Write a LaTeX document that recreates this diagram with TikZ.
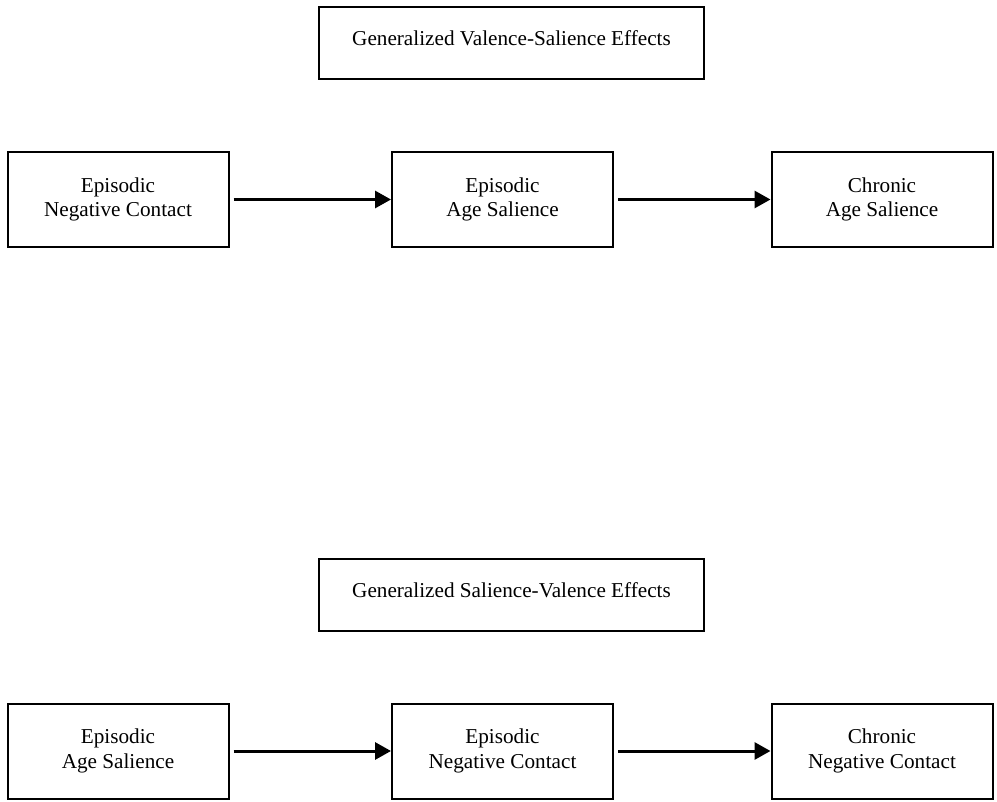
\documentclass[tikz,border=0pt]{standalone}
\usepackage{fontspec}
\setmainfont{Liberation Serif}
\usetikzlibrary{arrows.meta}

\begin{document}
\begin{tikzpicture}[x=1pt, y=-1pt, inner sep = 0pt,
  every node/.style={font=\fontsize{21.2}{24.5}\selectfont, align=center},
  box/.style={draw, line width=2pt, minimum width=221pt, minimum height=95pt},
  titlebox/.style={draw, line width=2pt, minimum width=385pt, minimum height=72pt, text depth=10pt},
  link/.style={line width=3pt, -{Triangle[length=16pt,width=17pt]}, shorten <=4pt}]
  \useasboundingbox (0,0) rectangle (997,802);

  % valence-salience
  \node[titlebox] (vstitle) at (511.5,43) {Generalized Valence-Salience Effects};

  \node[box] (vs1) at (118,199.5) {Episodic\\Negative Contact};
  \node[box] (vs2) at (502.5,199.5) {Episodic\\Age Salience};
  \node[box] (vs3) at (882,199.5) {Chronic\\Age Salience};
    \path[link] (vs1) edge (vs2);
    \path[link] (vs2) edge (vs3);

  % salience-valence
  \node[titlebox] (svtitle) at (511.5,595) {Generalized Salience-Valence Effects};

  \node[box] (sv1) at (118,751) {Episodic\\Age Salience};
  \node[box] (sv2) at (502.5,751) {Episodic\\Negative Contact};
  \node[box] (sv3) at (882,751) {Chronic\\Negative Contact};
    \path[link] (sv1) edge (sv2);
    \path[link] (sv2) edge (sv3);

\end{tikzpicture}
\end{document}
